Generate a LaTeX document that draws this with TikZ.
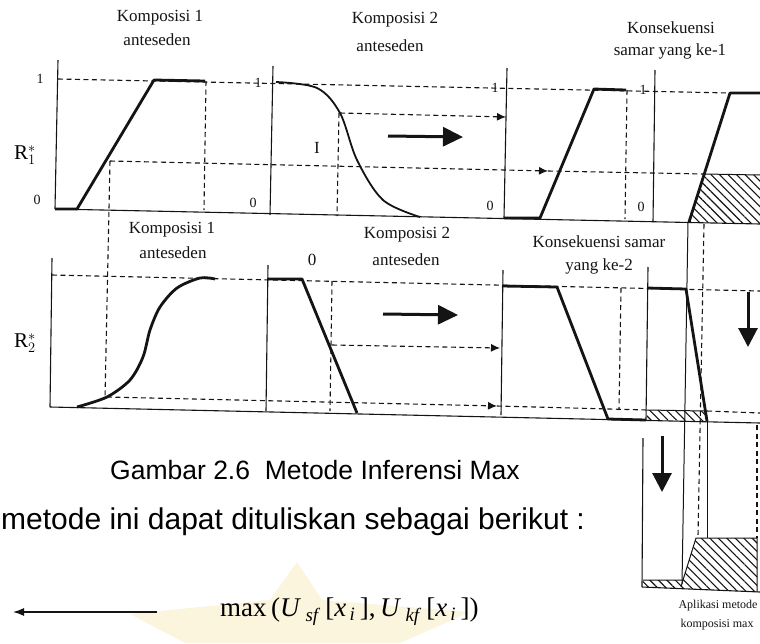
\documentclass[tikz,border=0pt]{standalone}
\usepackage{fontspec}
\setmainfont{Liberation Serif}
\newfontfamily\capfont{Liberation Sans}
\usetikzlibrary{arrows.meta,patterns.meta}
\definecolor{ink}{RGB}{20,20,20}
\definecolor{wmark}{RGB}{251,245,222}
\begin{document}
\begin{tikzpicture}[x=1pt,y=-1pt,
  ax/.style={line width=1.1pt, draw=ink},
  thn/.style={line width=1pt, draw=ink},
  crv/.style={line width=2.8pt, draw=ink, line join=round},
  dsh/.style={line width=1.1pt, draw=ink, dash pattern=on 5pt off 3.5pt},
  ahd/.style={-{Latex[length=9pt,width=8pt]}},
  big/.style={line width=3pt, draw=ink, -{Triangle[length=20pt,width=19pt]}},
  bigdown/.style={line width=3pt, draw=ink, -{Triangle[length=19pt,width=19pt]}},
  hatch/.style={pattern={Lines[angle=-45,distance=6pt,line width=1.1pt]}, pattern color=ink},
  ttl/.style={font=\fontsize{17}{19}\selectfont, inner sep=0, text=ink},
  sml/.style={font=\fontsize{12}{14}\selectfont, inner sep=0, text=ink},
  num/.style={font=\fontsize{14}{14}\selectfont, inner sep=0, text=ink}
]
\useasboundingbox (0,0) rectangle (760,643);
\fill[white] (0,0) rectangle (760,643);
% watermark
\fill[wmark] (297,562) -- (322,600) -- (470,612) -- (400,643) -- (185,643) -- (130,614) -- (270,600) -- cycle;

% ---------- top row ----------
\draw[dsh] (58,79) -- (730,93);
\draw[ax] (58,60) -- (55,209);
\draw[ax] (273,66) -- (270,215);
\draw[ax] (507,68) -- (504,218);
\draw[ax] (655,70) -- (653,222);
\draw[ax] (55,209) -- (760,224);
\fill[hatch] (689,222) -- (704,174) -- (760,175) -- (760,224) -- cycle;
\draw[thn] (704,174) -- (760,175);

\draw[crv] (55,209) -- (77,209) -- (154,80) -- (205,81);
\draw[dsh] (206,81) -- (204,210);
\draw[dsh,ahd] (110,161) -- (548,171);
\draw[dsh] (548,171) -- (704,174);
\draw[dsh] (110,161) -- (105,398);
\draw[line width=1.8pt, ink] plot[smooth,tension=0.55] coordinates {(276,82) (317,88) (340,113) (357,160) (383,200) (420,217)};
\draw[dsh] (339,113) -- (337,216);
\draw[dsh,ahd] (340,113) -- (506,117);
\draw[big] (388,136) -- (463,137);
\draw[crv] (504,218) -- (540,218) -- (594,89) -- (626,90);
\draw[dsh] (627,90) -- (625,219);
\draw[crv] (689,222) -- (730,93) -- (760,93);

% ---------- bottom row ----------
\draw[dsh] (52,275) -- (760,291);
\draw[ax] (52,258) -- (50,407);
\draw[ax] (268,265) -- (266,411);
\draw[ax] (503,270) -- (501,415);
\draw[ax] (648,267) -- (646,420);
\draw[ax] (50,407) -- (760,423);
\draw[crv] plot[smooth] coordinates {(77,407) (107,397) (130,380) (143,357) (150,330) (160,307) (177,288) (200,278) (215,279)};
\draw[dsh,ahd] (107,397) -- (497,406);
\draw[dsh] (497,406) -- (647,410);
\draw[dsh] (707,411) -- (760,413);
\draw[crv] (267,279) -- (302,279) -- (357,413);
\draw[dsh] (332,281) -- (330,411);
\draw[dsh,ahd] (332,345) -- (500,348);
\draw[big] (383,314) -- (458,315);
\draw[crv] (502,286) -- (557,287) -- (608,419) -- (646,420);
\draw[dsh] (621,288) -- (619,410);
\fill[hatch] (647,410) -- (705,411) -- (707,421) -- (647,420) -- cycle;
\draw[thn] (647,410) -- (705,411);
\draw[crv] (647,288) -- (686,289) -- (707,421);
\draw[bigdown] (748,292) -- (748,347);

% ---------- projection lines ----------
\draw[thn] (688,222) -- (682,584);
\draw[dsh] (704,224) -- (698,536);
\draw[thn] (707,421) -- (707,538);

% ---------- final panel ----------
\draw[ax] (643,438) -- (642,587);
\fill[hatch] (643,580) -- (683,580) -- (696,538) -- (757,538) -- (757,592) -- (642,587) -- cycle;
\draw[thn] (643,580) -- (683,580) -- (696,538) -- (757,538) -- (757,592);
\draw[thn] (681,587) -- (683,580);
\draw[ax] (642,587) -- (760,592);
\draw[dsh] (757,425) -- (757,538);
\draw[bigdown] (662,436) -- (662,492);

% ---------- texts ----------
\node[ttl] (t1a) at (160,18) {Komposisi 1};
\node[ttl] (t1b) at (157,40) {anteseden};
\node[ttl] (t2a) at (395,20) {Komposisi 2};
\node[ttl] (t2b) at (390,46) {anteseden};
\node[ttl] (t3a) at (671,28) {Konsekuensi};
\node[ttl] (t3b) at (670,51) {samar yang ke-1};
\node[ttl] (b1a) at (172,230) {Komposisi 1};
\node[ttl] (b1b) at (173,253) {anteseden};
\node[ttl] (b2a) at (407,235) {Komposisi 2};
\node[ttl] (b2b) at (406,260) {anteseden};
\node[ttl] (b2z) at (312,260) {0};
\node[ttl] (b3a) at (599,242) {Konsekuensi samar};
\node[ttl] (b3b) at (599,266) {yang ke-2};
\node[sml] (fa) at (718,606) {Aplikasi metode};
\node[sml] (fb) at (717,625) {komposisi max};

\node[num] (l1) at (40,79) {1};
\node[num] (l0) at (37,200) {0};
\node[num] (l2) at (258,83) {1};
\node[num] (l3) at (253,203) {0};
\node[num] (l4) at (495,88) {1};
\node[num] (l5) at (490,206) {0};
\node[num] (l6) at (643,90) {1};
\node[num] (l7) at (641,207) {0};
\node[ttl] (lI) at (317,148) {I};
\node[font=\fontsize{21}{21}\selectfont, inner sep=0] (r1) at (25,155) {$\mathrm{R}_{1}^{*}$};
\node[font=\fontsize{21}{21}\selectfont, inner sep=0] (r2) at (25,343) {$\mathrm{R}_{2}^{*}$};

\node[font=\capfont\fontsize{26.5}{28}\selectfont, inner sep=0, anchor=west] (cap) at (110,470) {Gambar 2.6\ \ Metode Inferensi Max};
\node[font=\capfont\fontsize{30}{32}\selectfont, inner sep=0, anchor=west] (txt) at (1,522) {metode ini dapat dituliskan sebagai berikut :};
\coordinate (ar1) at (157,612);
\coordinate (ar2) at (13,612);
\draw[line width=1.3pt, ink, -{Latex[length=11pt,width=8pt]}] (ar1) -- (ar2);
\node[font=\fontsize{27}{29}\selectfont, inner sep=0, anchor=west] (frm) at (220,612) {max\,(\textit{U}\,\textsubscript{\textit{sf}}\,[\textit{x}\textsubscript{\,\textit{i}}\,],\,\textit{U}\,\textsubscript{\textit{kf}}\,[\textit{x}\textsubscript{\,\textit{i}}\,])};
\end{tikzpicture}
\end{document}
